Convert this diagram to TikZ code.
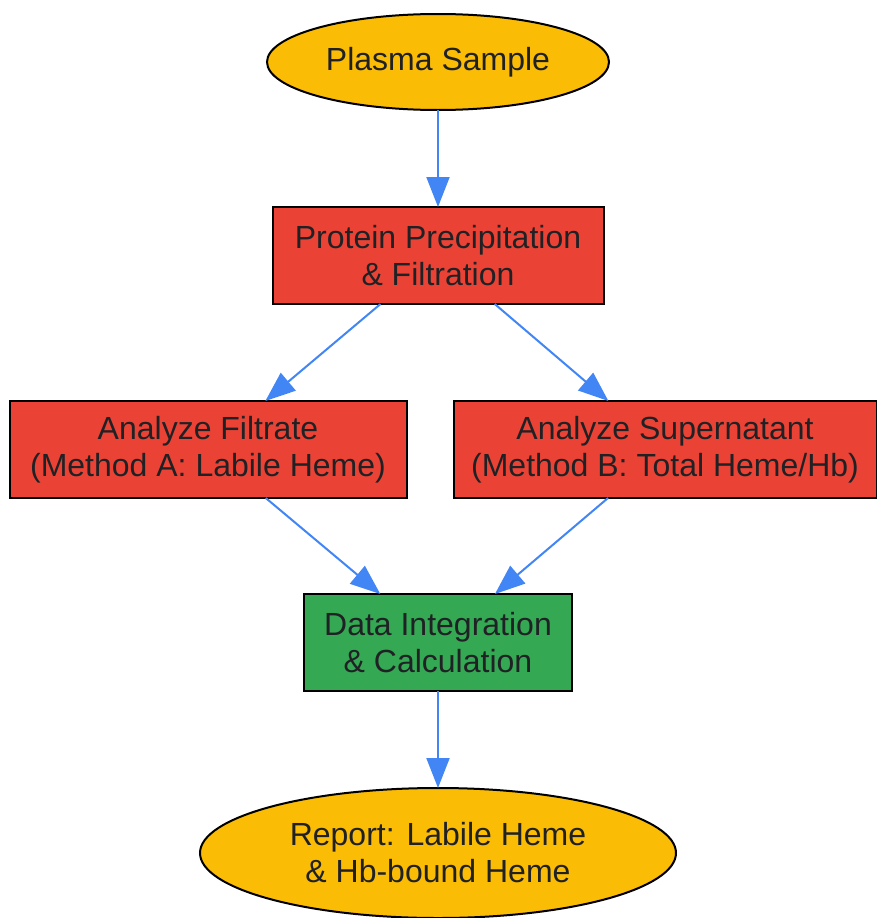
\documentclass[tikz,border=0pt]{standalone}
\usepackage{fontspec}
\setmainfont{Liberation Sans}
\usetikzlibrary{shapes,arrows.meta,positioning}

\definecolor{gyellow}{HTML}{FBBC05}
\definecolor{gred}{HTML}{EA4335}
\definecolor{ggreen}{HTML}{34A853}
\definecolor{gblue}{HTML}{4285F4}
\definecolor{gtext}{HTML}{202124}

\begin{document}
\begin{tikzpicture}[
    x=1pt, y=1pt,
    node distance=97pt,
    terminal/.style={ellipse, draw=black, fill=gyellow, line width=2pt, inner sep=0pt, outer sep=0pt, align=center, text=gtext, font=\fontsize{32}{37}\selectfont},
    process/.style={rectangle, draw=black, fill=gred, line width=2pt, minimum height=97pt, inner sep=0pt, outer sep=0pt, align=center, text=gtext, font=\fontsize{32}{37}\selectfont},
    result/.style={process, fill=ggreen},
    arrow/.style={-{Triangle[length=30pt,width=23pt]}, draw=gblue, line width=2pt}
]
\useasboundingbox (0,0) rectangle (877,-918);

% ============ ENTREE ============
\node[terminal, minimum width=342pt, minimum height=96pt] (plasma) at (438,-62) {Plasma Sample};

% ============ PREPARATION ============
\node[process, minimum width=331pt, below=of plasma] (protein) {Protein Precipitation\\\& Filtration};

% ============ ANALYSES ============
\node[process, minimum width=397pt, below=of protein, xshift=-230pt] (filtrate) {Analyze Filtrate\\(Method A: Labile Heme)};
\node[process, minimum width=423pt, below=of protein, xshift=227pt] (supernatant) {Analyze Supernatant\\(Method B: Total Heme/Hb)};

% ============ CALCUL ============
\node[result, minimum width=268pt, below=290pt of protein.south] (data) {Data Integration\\\& Calculation};

% ============ SORTIE ============
\node[terminal, minimum width=476pt, minimum height=130pt, below=of data] (report) {Report: Labile Heme\\\& Hb-bound Heme};

% ============ CONNEXIONS ============
\draw[arrow] (plasma) -- (protein);
\draw[arrow] (protein) -- (filtrate);
\draw[arrow] (protein) -- (supernatant);
\draw[arrow] (filtrate) -- (data);
\draw[arrow] (supernatant) -- (data);
\draw[arrow] (data) -- (report);

\end{tikzpicture}
\end{document}
